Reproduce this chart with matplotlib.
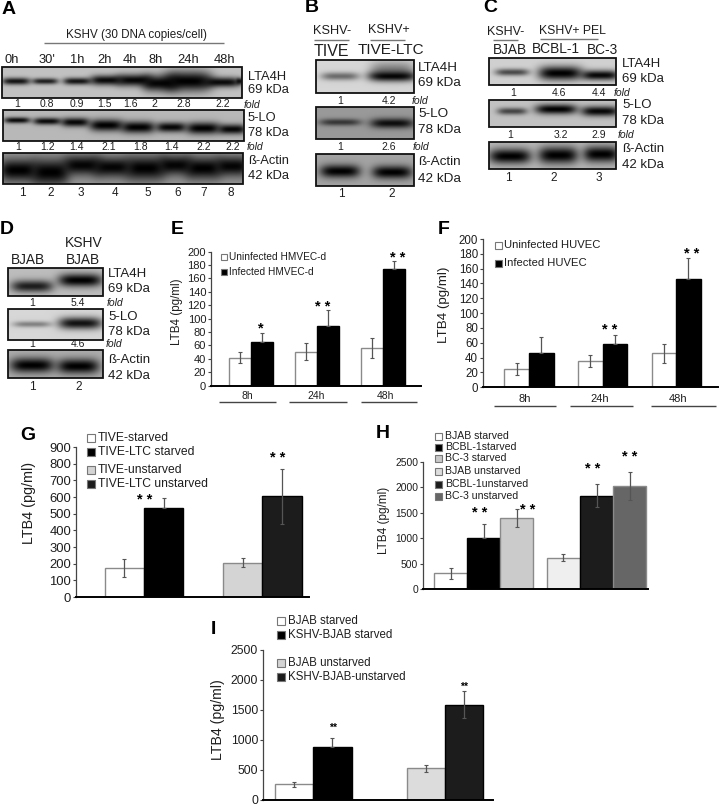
import numpy as np
import matplotlib
matplotlib.use('Agg')
import matplotlib.pyplot as plt
from matplotlib.patches import Rectangle

plt.rcParams['font.family'] = ['Liberation Sans', 'DejaVu Sans']

W, H = 720, 808
TXT = '#1e1e1e'

# ---- values ----
# blot A
a_times = ['0h', "30'", '1h', '2h', '4h', '8h', '24h', '48h']
a_fold_lta4h = ['1', '0.8', '0.9', '1.5', '1.6', '2', '2.8', '2.2']
a_fold_5lo = ['1', '1.2', '1.4', '2.1', '1.8', '1.4', '2.2', '2.2']
a_lanes = ['1', '2', '3', '4', '5', '6', '7', '8']
# blots B, C, D
b_fold_lta4h = ['1', '4.2']
b_fold_5lo = ['1', '2.6']
c_fold_lta4h = ['1', '4.6', '4.4']
c_fold_5lo = ['1', '3.2', '2.9']
d_fold_lta4h = ['1', '5.4']
d_fold_5lo = ['1', '4.6']

# E
e_times = ['8h', '24h', '48h']
e_uninf = [42, 51, 56]
e_uninf_err = [8, 12.5, 14.5]
e_inf = [65, 89, 174]
e_inf_err = [13, 24, 12]
e_names = ['Uninfected HMVEC-d', 'Infected HMVEC-d']
# F
f_times = ['8h', '24h', '48h']
f_uninf = [25, 36, 46]
f_uninf_err = [8, 8, 13]
f_inf = [46, 59, 146]
f_inf_err = [22, 12, 29]
f_names = ['Uninfected HUVEC', 'Infected HUVEC']
# G
g_ctrl = [175, 205]
g_ctrl_err = [52, 27]
g_ltc = [535, 605]
g_ltc_err = [58, 165]
g_names = ['TIVE-starved', 'TIVE-LTC starved', 'TIVE-unstarved', 'TIVE-LTC unstarved']
# H
h_bjab = [310, 620]
h_bjab_err = [105, 60]
h_bcbl = [1000, 1840]
h_bcbl_err = [270, 230]
h_bc3 = [1400, 2030]
h_bc3_err = [170, 280]
h_names = ['BJAB starved', 'BCBL-1starved', 'BC-3 starved', 'BJAB unstarved',
           'BCBL-1unstarved', 'BC-3 unstarved']
# I
i_bjab = [260, 530]
i_bjab_err = [40, 58]
i_kshv = [880, 1590]
i_kshv_err = [160, 225]
i_names = ['BJAB starved', 'KSHV-BJAB starved', 'BJAB unstarved', 'KSHV-BJAB-unstarved']

fig = plt.figure(figsize=(W / 100, H / 100), dpi=100)

# overlay in page pixels for the lettering and blots
pg = fig.add_axes([0, 0, 1, 1], zorder=5)
pg.set_xlim(0, W)
pg.set_ylim(H, 0)
pg.axis('off')
pg.patch.set_alpha(0)


def t(x, y, s, size=9, ha='center', **kw):
    kw.setdefault('color', TXT)
    pg.text(x, y, s, fontsize=size, ha=ha, va='center', **kw)


def blot(x0, x1, y0, y1, bg, bands):
    # soft bands on a grey film
    xs, ys = np.meshgrid(np.arange(x0, x1, 0.5), np.arange(y0, y1, 0.5))
    clear = np.ones_like(xs)
    for cx, cy, wx, wy, dark in bands:
        clear *= 1 - dark * np.exp(-((xs - cx) / wx) ** 4 - ((ys - cy) / wy) ** 2)
    pg.imshow(bg * clear, extent=(x0, x1, y1, y0), cmap='gray', vmin=0, vmax=1,
              aspect='auto', interpolation='bilinear')
    pg.add_patch(Rectangle((x0, y0), x1 - x0, y1 - y0, fill=False, ec='#111111', lw=1.3))


def rule(x0, x1, y, color='#777777', lw=1):
    pg.plot([x0, x1], [y, y], color=color, lw=lw, solid_capstyle='butt')


def row(xs, y, labels, size=7.5):
    for x, s in zip(xs, labels):
        t(x, y, s, size)


def labels_right(x, ys, size=9.5):
    names = ['LTA4H', '69 kDa', '5-LO', '78 kDa', 'ß-Actin', '42 kDa']
    for y, s in zip(ys, names):
        t(x, y, s, size, ha='left')


# Panel A
t(9, 9, 'A', 14, weight='bold', color='black')
t(136, 35, 'KSHV (30 DNA copies/cell)', 8.4)
rule(44, 224, 43)
row([12, 47, 77, 104, 130, 156, 188, 224], 60, a_times, 9.3)
blot(2, 242, 67, 98, 0.76, [(16, 81, 14, 3.5, .9), (45, 81, 13, 3, .85), (77, 81, 14, 3.5, .9),
                            (106, 80, 16, 5, .95), (134, 80, 18, 6, .97), (160, 83, 18, 8, .97),
                            (188, 81, 24, 10, 1), (222, 82, 19, 5, .95), (240, 81, 4, 3, .85)])
blot(3, 244, 110, 141, 0.72, [(17, 120, 13, 3, .95), (47, 121, 14, 3.5, .95), (75, 122, 14, 4.5, .97),
                              (106, 125, 17, 6, 1), (138, 127, 17, 6, 1), (171, 127, 15, 5, .97),
                              (203, 128, 17, 6, 1), (232, 129, 14, 5, .97)])
blot(3, 243, 153, 184, 0.6, [(18, 170, 19, 11, 1), (50, 172, 19, 13, 1), (82, 165, 19, 10, .97),
                             (112, 167, 19, 10, .97), (145, 168, 20, 12, 1), (175, 165, 17, 10, .97),
                             (203, 168, 18, 11, 1), (232, 166, 17, 10, .97)])
row([17, 47, 77, 104, 130, 154, 184, 223], 104, a_fold_lta4h)
t(252, 105, 'fold', 7.5, style='italic')
row([18, 48, 76, 109, 141, 171, 204, 233], 147, a_fold_5lo)
t(255, 147, 'fold', 7.5, style='italic')
row([22, 51, 81, 115, 148, 178, 204, 231], 193, a_lanes, 8.5)
labels_right(248, [77, 90, 118, 133, 161, 176], 9.3)

# Panel B
t(312, 8, 'B', 14, weight='bold', color='black')
t(332, 31, 'KSHV-', 9.2)
rule(314, 349, 40)
t(389, 30, 'KSHV+', 9.1)
rule(370, 405, 40)
t(331, 52, 'TIVE', 11.5)
t(391, 50, 'TIVE-LTC', 11)
blot(316, 414, 60, 93, 0.84, [(340, 76, 19, 4, .5), (392, 70, 22, 9, .4), (392, 76, 24, 5, .97)])
blot(316, 414, 107, 139, 0.6, [(340, 122, 21, 3.5, .65), (392, 123, 22, 5, .92)])
blot(316, 414, 154, 186, 0.64, [(340, 171, 20, 6.5, 1), (392, 172, 20, 6.5, 1)])
row([340, 389], 101, b_fold_lta4h)
t(420, 101, 'fold', 7.5, style='italic')
row([340, 389], 147, b_fold_5lo)
t(421, 147, 'fold', 7.5, style='italic')
row([341, 392], 194, ['1', '2'], 8.5)
labels_right(418, [68, 83, 114, 130, 162, 179], 9.7)

# Panel C
t(490, 8, 'C', 14, weight='bold', color='black')
t(506, 32, 'KSHV-', 9)
rule(493, 518, 40)
t(572, 31, 'KSHV+ PEL', 8.8)
rule(540, 598, 39)
t(510, 50, 'BJAB', 9.8)
t(556, 49, 'BCBL-1', 9.9)
t(602, 50, 'BC-3', 9.8)
blot(489, 616, 58, 85, 0.82, [(512, 72, 17, 3.5, .65), (560, 73, 22, 7, 1), (600, 75, 19, 5, .97)])
blot(489, 616, 100, 127, 0.76, [(512, 111, 15, 3.5, .65), (556, 109, 21, 5, 1), (600, 111, 19, 5, .97)])
blot(489, 616, 142, 169, 0.72, [(510, 156, 21, 7.5, 1), (558, 155, 20, 8.5, 1), (601, 154, 18, 8, 1)])
row([513, 559, 599], 93, c_fold_lta4h)
t(622, 93, 'fold', 7.5, style='italic')
row([510, 561, 599], 135, c_fold_5lo)
t(626, 135, 'fold', 7.5, style='italic')
row([508, 554, 599], 178, ['1', '2', '3'], 8.5)
labels_right(622, [64, 79, 105, 121, 149, 165], 9.5)

# Panel D
t(7, 229, 'D', 14, weight='bold', color='black')
t(28, 260, 'BJAB', 9.8)
t(84, 243, 'KSHV', 10)
t(83, 260, 'BJAB', 9.8)
blot(8, 103, 268, 296, 0.74, [(32, 286, 21, 6, .85), (80, 280, 22, 6.5, 1)])
blot(8, 103, 309, 340, 0.84, [(32, 324, 19, 3, .4), (80, 323, 22, 6, .92)])
blot(8, 103, 350, 378, 0.68, [(32, 365, 22, 7.5, 1), (78, 366, 21, 7.5, 1)])
row([32, 78], 303, d_fold_lta4h)
t(115, 303, 'fold', 7.5, style='italic')
row([32, 78], 344, d_fold_5lo)
t(114, 344, 'fold', 7.5, style='italic')
row([32, 79], 387, ['1', '2'], 8.5)
labels_right(108, [274, 289, 317, 332, 360, 376], 9.5)


def bar_axes(x0, x1, y_base, y_top, xlim, ylim, ticks, tick_size):
    # pixel box of the plot on the page, top of the box is the top tick
    ax = fig.add_axes([x0 / W, 1 - y_base / H, (x1 - x0) / W, (y_base - y_top) / H])
    ax.set_xlim(*xlim)
    ax.set_ylim(*ylim)
    ax.set_yticks(ticks)
    ax.set_xticks([])
    ax.patch.set_alpha(0)
    ax.spines[['top', 'right']].set_visible(False)
    ax.spines['bottom'].set_linewidth(1.4)
    ax.spines['left'].set_linewidth(0.9)
    ax.spines['left'].set_color('#444444')
    ax.tick_params(axis='y', length=2.5, width=0.8, pad=1, labelsize=tick_size,
                   colors='#444444', labelcolor=TXT)
    return ax


def bars(ax, x, vals, errs, width, colors, low=None):
    # low is the share of the lower whisker drawn, dark bars hide most of it
    edge = ['#8a8a8a' if c not in ('black', '#1c1c1c') else 'black' for c in colors]
    ax.bar(x, vals, width, color=colors, edgecolor=edge, lw=1)
    lo = errs if low is None else [e * m for e, m in zip(errs, low)]
    ax.errorbar(x, vals, yerr=[lo, errs], fmt='none', ecolor='#555555', elinewidth=0.9,
                capsize=1.3, capthick=0.8, zorder=4)


def legend(xs, ys, names, colors, size, box, text_x, edge='#777777'):
    for y, s, c in zip(ys, names, colors):
        pg.add_patch(Rectangle((xs, y - box / 2), box, box, fc=c, ec=edge, lw=0.8))
        t(text_x, y, s, size, ha='left')


def ylabel(x, y, size):
    t(x, y, 'LTB4 (pg/ml)', size, rotation=90)


def stars(x, y, s='* *', size=10.5):
    t(x, y + 3, s, size, weight='bold', color='black')


# Panel E
t(177, 230, 'E', 14, weight='bold', color='black')
ylabel(177, 312, 8.4)
ax = bar_axes(211, 421, 385.7, 251.7, (-0.61, 2.57), (0, 200), np.arange(0, 201, 20), 8)
gx = np.arange(3)
bars(ax, gx - 1 / 6, e_uninf, e_uninf_err, 1 / 3, ['white'] * 3)
bars(ax, gx + 1 / 6, e_inf, e_inf_err, 1 / 3, ['black'] * 3, low=[0] * 3)
legend(220.5, [257, 272], e_names, ['white', 'black'], 7.3, 6.5, 229)
row([247, 316, 385], 396, e_times, 7.5)
rule(219, 276, 402, '#444444')
rule(289, 347, 402, '#444444')
rule(361, 417, 402, '#444444')
stars(261, 325, '*')
stars(323, 304)
stars(398, 255)

# Panel F
t(444, 230, 'F', 14, weight='bold', color='black')
ylabel(444, 305, 9.6)
ax = bar_axes(483, 718, 387.3, 239, (-0.625, 2.568), (0, 200), np.arange(0, 201, 20), 8.3)
bars(ax, gx - 1 / 6, f_uninf, f_uninf_err, 1 / 3, ['white'] * 3)
bars(ax, gx + 1 / 6, f_inf, f_inf_err, 1 / 3, ['black'] * 3, low=[0] * 3)
legend(495, [245, 263], f_names, ['white', 'black'], 8.1, 7, 504)
row([525, 600, 678], 399, f_times, 8)
rule(494, 556, 406, '#444444')
rule(570, 633, 406, '#444444')
rule(651, 716, 406, '#444444')
stars(610, 327)
stars(692, 251)

# Panel G
t(28, 436, 'G', 14, weight='bold', color='black')
ylabel(29, 503, 10.4)
ax = bar_axes(76, 309, 597, 447, (-0.575, 1.395), (0, 900), np.arange(0, 901, 100), 9.4)
gx2 = np.arange(2)
bars(ax, gx2 - 1 / 6, g_ctrl, g_ctrl_err, 1 / 3, ['white', '#d4d4d4'])
bars(ax, gx2 + 1 / 6, g_ltc, g_ltc_err, 1 / 3, ['black', '#1c1c1c'], low=[0, 1])
legend(86.5, [438, 452, 470, 484], g_names, ['white', 'black', '#d4d4d4', '#1c1c1c'], 8.7, 8, 98)
stars(145, 497)
stars(278, 455)

# Panel H
t(383, 434, 'H', 14, weight='bold', color='black')
ylabel(384, 520, 8.5)
ax = bar_axes(423, 648, 589, 462, (-0.54, 1.457), (0, 2500), np.arange(0, 2501, 500), 7.4)
bars(ax, gx2 - 0.293, h_bjab, h_bjab_err, 0.293, ['white', '#efefef'])
bars(ax, gx2, h_bcbl, h_bcbl_err, 0.293, ['black', '#1c1c1c'], low=[0, 1])
bars(ax, gx2 + 0.293, h_bc3, h_bc3_err, 0.293, ['#cbcbcb', '#666666'])
legend(435, [436, 447, 458, 471, 484, 496], h_names,
       ['white', 'black', '#c8c8c8', '#dddddd', '#1c1c1c', '#666666'], 7.6, 7, 445)
stars(480, 510)
stars(528, 507)
stars(593, 466)
stars(630, 454)

# Panel I
t(213, 630, 'I', 14, weight='bold', color='black')
ylabel(218, 720, 10.2)
ax = bar_axes(263, 493, 800, 650, (-0.382, 1.364), (0, 2500), np.arange(0, 2501, 500), 8.7)
bars(ax, gx2 - 0.1455, i_bjab, i_bjab_err, 0.291, ['white', '#dcdcdc'])
bars(ax, gx2 + 0.1455, i_kshv, i_kshv_err, 0.291, ['black', '#1c1c1c'], low=[0, 1])
legend(277, [621, 635, 663, 677], i_names, ['white', 'black', '#d4d4d4', '#1c1c1c'], 8.3, 8, 288)
stars(333, 725, '**', 7.5)
stars(464, 684, '**', 7.5)

plt.savefig('out.png', dpi=100)
